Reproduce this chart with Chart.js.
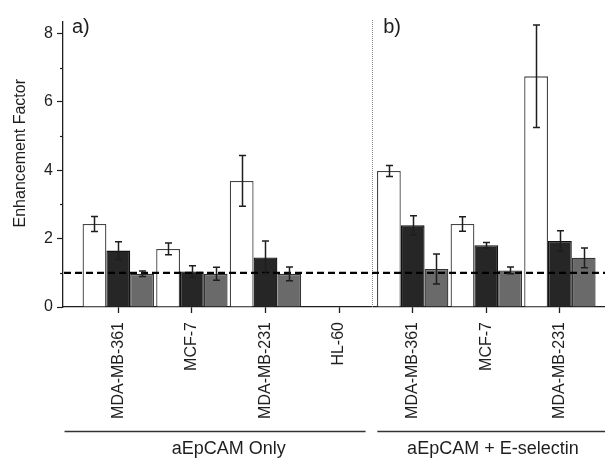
<!DOCTYPE html>
<html>
<head>
<meta charset="utf-8">
<script src="https://cdn.jsdelivr.net/npm/chart.js@4/dist/chart.umd.min.js"></script>
<style>
html,body{margin:0;padding:0;background:#fff;}
canvas{display:block;}
</style>
</head>
<body>
<canvas id="c" width="605" height="459"></canvas>
<script>
// ---- data ----
const categories = ['MDA-MB-361', 'MCF-7', 'MDA-MB-231', 'HL-60', 'MDA-MB-361', 'MCF-7', 'MDA-MB-231'];
const whiteValues = [2.43, 1.70, 3.69, null, 3.98, 2.43, 6.75];
const whiteErrors = [0.22, 0.17, 0.74, null, 0.16, 0.21, 1.50];
const darkValues  = [1.65, 1.04, 1.45, null, 2.39, 1.81, 1.93];
const darkErrors  = [0.26, 0.17, 0.48, null, 0.28, 0.08, 0.30];
const grayValues  = [0.97, 0.97, 0.97, null, 1.11, 1.07, 1.44];
const grayErrors  = [0.08, 0.19, 0.20, null, 0.44, 0.10, 0.29];
const yTickValues = [0, 1, 2, 3, 4, 5, 6, 7, 8];
const yTickLabels = ['0', '', '2', '', '4', '', '6', '', '8'];
const groupNames  = ['aEpCAM Only', 'aEpCAM + E-selectin'];
const groupFirst  = [0, 4];   // first category index of each group
const groupLast   = [3, 6];   // last category index of each group
const panelLabels = ['a)', 'b)'];
const referenceLevel = 1;
const yTitle = 'Enhancement Factor';

const FONT = '"Liberation Sans", Arial, sans-serif';
const INK = '#1e1e1e';

function toXY(vals) { return vals.map((v, i) => ({x: i, y: v})); }

const errorSets = [whiteErrors, darkErrors, grayErrors];

const decorPlugin = {
  id: 'decor',
  beforeDatasetsDraw(chart) {
    const {ctx, chartArea: a, scales: {x, y}} = chart;
    // dotted divider between panels
    const dx = Math.round(x.getPixelForValue(groupLast[0] + 0.45)) + 0.5;
    ctx.save();
    ctx.strokeStyle = '#8a8a8a';
    ctx.lineWidth = 1;
    ctx.setLineDash([1, 1]);
    ctx.beginPath();
    ctx.moveTo(dx, a.top - 2);
    ctx.lineTo(dx, a.bottom);
    ctx.stroke();
    ctx.restore();
  },
  afterDatasetsDraw(chart) {
    const {ctx, chartArea: a, scales: {x, y}} = chart;
    // dashed reference line
    const ry = y.getPixelForValue(referenceLevel);
    ctx.save();
    ctx.strokeStyle = '#000';
    ctx.lineWidth = 2.2;
    ctx.setLineDash([7, 4]);
    ctx.beginPath();
    ctx.moveTo(a.left + 1, ry);
    ctx.lineTo(a.right, ry);
    ctx.stroke();
    ctx.restore();

    // error bars
    ctx.save();
    ctx.strokeStyle = INK;
    ctx.lineWidth = 1.5;
    chart.data.datasets.forEach((ds, di) => {
      const meta = chart.getDatasetMeta(di);
      const errs = errorSets[di];
      meta.data.forEach((el, i) => {
        const v = ds.data[i].y;
        const e = errs[i];
        if (v == null || e == null) return;
        const cx = Math.round(el.x) + 0.5;
        const yt = y.getPixelForValue(v + e);
        const yb = y.getPixelForValue(v - e);
        ctx.beginPath();
        ctx.moveTo(cx, yt); ctx.lineTo(cx, yb);
        ctx.moveTo(cx - 3.5, yt); ctx.lineTo(cx + 3.5, yt);
        ctx.moveTo(cx - 3.5, yb); ctx.lineTo(cx + 3.5, yb);
        ctx.stroke();
      });
    });
    ctx.restore();

    // minor y ticks
    ctx.save();
    ctx.strokeStyle = INK;
    ctx.lineWidth = 1.2;
    yTickValues.forEach((v, i) => {
      if (yTickLabels[i] !== '') return;
      const py = Math.round(y.getPixelForValue(v)) + 0.5;
      ctx.beginPath();
      ctx.moveTo(a.left - 3, py); ctx.lineTo(a.left, py);
      ctx.stroke();
    });
    ctx.restore();
  },
  afterDraw(chart) {
    const {ctx, chartArea: a, scales: {x, y}} = chart;
    ctx.save();
    ctx.fillStyle = INK;
    // panel labels
    ctx.font = '20px ' + FONT;
    ctx.textAlign = 'left';
    ctx.textBaseline = 'alphabetic';
    ctx.fillText(panelLabels[0], a.left + 9, 33);
    ctx.fillText(panelLabels[1], x.getPixelForValue(groupLast[0] + 0.45) + 11, 33);

    // y axis title
    ctx.save();
    ctx.font = '16px ' + FONT;
    ctx.textAlign = 'center';
    ctx.textBaseline = 'middle';
    ctx.translate(21, y.getPixelForValue(4.5));
    ctx.rotate(-Math.PI / 2);
    ctx.fillText(yTitle, 0, 0);
    ctx.restore();

    // group brackets
    ctx.strokeStyle = '#333';
    ctx.lineWidth = 1.3;
    const lineY = 431.5;
    const starts = [x.getPixelForValue(groupFirst[0] - 0.73), x.getPixelForValue(groupFirst[1] - 0.48)];
    const ends = [x.getPixelForValue(groupLast[0] + 0.36), a.right];
    const centers = [x.getPixelForValue(1.5), x.getPixelForValue(5.09)];
    ctx.font = '18px ' + FONT;
    ctx.textAlign = 'center';
    ctx.textBaseline = 'alphabetic';
    groupNames.forEach((g, i) => {
      ctx.beginPath();
      ctx.moveTo(starts[i], lineY); ctx.lineTo(ends[i], lineY);
      ctx.stroke();
      ctx.fillText(g, centers[i], 454);
    });
    ctx.restore();
  }
};

const barCommon = {borderWidth: 1.3, borderSkipped: 'start', categoryPercentage: 0.97, barPercentage: 1.0};

new Chart(document.getElementById('c'), {
  type: 'bar',
  data: {
    datasets: [
      Object.assign({label: 'white', data: toXY(whiteValues), backgroundColor: '#ffffff', borderColor: '#444444'}, barCommon),
      Object.assign({label: 'dark', data: toXY(darkValues), backgroundColor: '#262626', borderColor: '#111111'}, barCommon),
      Object.assign({label: 'gray', data: toXY(grayValues), backgroundColor: '#6a6a6a', borderColor: '#333333'}, barCommon)
    ]
  },
  options: {
    responsive: false,
    devicePixelRatio: 1,
    animation: false,
    layout: {padding: {top: 22, right: 0, left: 0, bottom: 0}},
    plugins: {legend: {display: false}, tooltip: {enabled: false}},
    scales: {
      x: {
        type: 'linear',
        min: -0.751,
        max: 6.613,
        offset: false,
        afterFit: s => { s.height = 152; },
        afterBuildTicks: s => { s.ticks = categories.map((c, i) => ({value: i})); },
        border: {display: true, color: INK, width: 1.3},
        grid: {offset: false, drawOnChartArea: false, drawTicks: true, tickLength: 6, tickColor: INK, tickWidth: 1.3},
        ticks: {
          autoSkip: false,
          minRotation: 90,
          maxRotation: 90,
          padding: 9,
          color: INK,
          font: {family: FONT, size: 16},
          callback: v => categories[v]
        }
      },
      y: {
        min: 0,
        max: 8.34,
        afterFit: s => { s.width = 63; },
        afterBuildTicks: s => { s.ticks = yTickValues.map(v => ({value: v})); },
        border: {display: true, color: INK, width: 1.3},
        grid: {
          drawOnChartArea: false, drawTicks: true, tickLength: 6, tickWidth: 1.2,
          tickColor: ctx => (ctx.tick && ctx.tick.value % 2 === 0) ? INK : 'rgba(0,0,0,0)'
        },
        ticks: {
          padding: 4,
          color: INK,
          font: {family: FONT, size: 16},
          callback: (v, i) => yTickLabels[yTickValues.indexOf(v)]
        }
      }
    }
  },
  plugins: [decorPlugin]
});
</script>
</body>
</html>
